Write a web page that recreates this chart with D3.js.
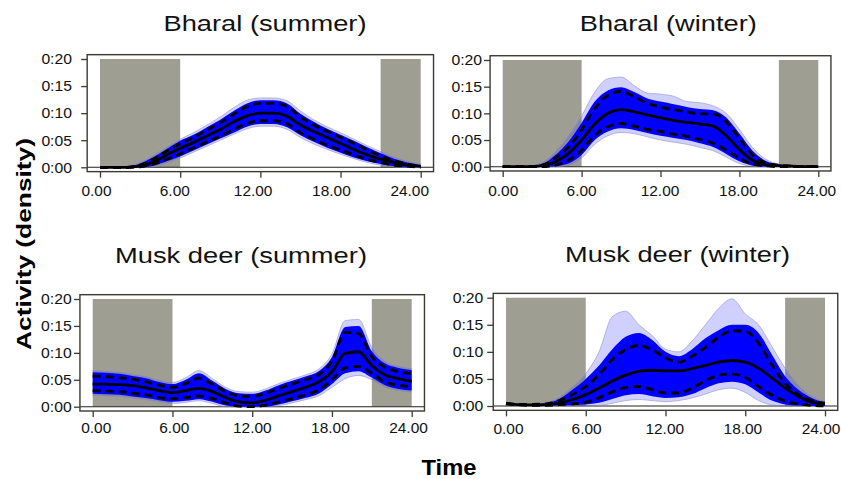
<!DOCTYPE html>
<html><head><meta charset="utf-8">
<script src="https://cdn.jsdelivr.net/npm/d3@7"></script>
<style>body{margin:0;background:#fff} svg{display:block}</style>
</head><body><svg id="c" width="841" height="479"></svg>
<script>
// ---------------- data ----------------
const hours = [0,1,2,3,4,5,6,7,8,9,10,11,12,13,14,15,16,17,18,19,20,21,22,23,24];
const xTickValues = [0, 6, 12, 18, 24];
const xTickLabels = ["0.00", "6.00", "12.00", "18.00", "24.00"];
const yTickValues = [0, 0.05, 0.10, 0.15, 0.20];
const yTickLabels = ["0:00", "0:05", "0:10", "0:15", "0:20"];
const nightStart = [0, 21];
const nightEnd = [6, 24];
const panelTitles = ["Bharal (summer)", "Bharal (winter)", "Musk deer (summer)", "Musk deer (winter)"];

// Bharal (summer)
const bsMean  = [0,0,0,0.002,0.010,0.023,0.035,0.046,0.058,0.070,0.084,0.095,0.100,0.100,0.094,0.078,0.066,0.055,0.044,0.033,0.023,0.015,0.009,0.004,0.002];
const bsUpper = [0,0,0,0.004,0.015,0.030,0.044,0.055,0.069,0.082,0.098,0.112,0.118,0.118,0.112,0.093,0.078,0.066,0.055,0.044,0.032,0.021,0.012,0.006,0.002];
const bsLower = [0,0,0,0.001,0.006,0.015,0.025,0.036,0.047,0.058,0.070,0.081,0.086,0.086,0.080,0.064,0.052,0.041,0.032,0.023,0.015,0.009,0.004,0.002,0];
const bsBandHi = [0,0,0.001,0.007,0.019,0.034,0.049,0.060,0.074,0.088,0.104,0.118,0.124,0.124,0.118,0.099,0.084,0.071,0.060,0.049,0.037,0.026,0.016,0.009,0.004];
const bsBandLo = [0,0,0,0,0.003,0.011,0.020,0.031,0.042,0.053,0.064,0.075,0.080,0.080,0.074,0.059,0.047,0.036,0.027,0.018,0.011,0.006,0.002,0,0];
const bsHaloHi = [0,0,0.002,0.009,0.022,0.037,0.052,0.064,0.078,0.093,0.110,0.124,0.128,0.128,0.123,0.104,0.088,0.075,0.064,0.052,0.040,0.029,0.019,0.011,0.006];
const bsHaloLo = [0,0,0,0,0.001,0.008,0.017,0.028,0.039,0.050,0.061,0.071,0.076,0.076,0.070,0.055,0.043,0.033,0.024,0.016,0.009,0.004,0.001,0,0];

// Bharal (winter)
const bwMean  = [0,0,0,0.002,0.009,0.025,0.050,0.080,0.100,0.107,0.103,0.097,0.092,0.087,0.083,0.080,0.076,0.058,0.032,0.012,0.004,0.002,0.001,0,0];
const bwUpper = [0,0,0,0.003,0.016,0.037,0.069,0.109,0.134,0.141,0.131,0.119,0.112,0.107,0.103,0.099,0.099,0.084,0.053,0.022,0.007,0.003,0.001,0,0];
const bwLower = [0,0,0,0,0.003,0.012,0.031,0.059,0.075,0.081,0.076,0.070,0.066,0.061,0.057,0.051,0.044,0.031,0.016,0.005,0.002,0,0,0,0];
const bwBandHi = [0,0,0.001,0.005,0.022,0.047,0.082,0.122,0.143,0.149,0.140,0.128,0.122,0.117,0.112,0.108,0.106,0.092,0.062,0.030,0.011,0.004,0.001,0,0];
const bwBandLo = [0,0,0,0,0.001,0.006,0.022,0.050,0.066,0.072,0.069,0.063,0.058,0.054,0.050,0.044,0.037,0.024,0.010,0.002,0,0,0,0,0];
const bwHaloHi = [0,0,0.002,0.008,0.028,0.058,0.095,0.140,0.165,0.168,0.152,0.138,0.136,0.132,0.122,0.120,0.114,0.100,0.070,0.036,0.014,0.005,0.002,0,0];
const bwHaloLo = [0,0,0,0,0,0.003,0.016,0.042,0.058,0.064,0.062,0.056,0.050,0.046,0.042,0.036,0.030,0.018,0.006,0.001,0,0,0,0,0];

// Musk deer (summer)
const msMean  = [0.042,0.042,0.041,0.039,0.035,0.030,0.026,0.030,0.034,0.028,0.017,0.009,0.007,0.012,0.020,0.028,0.036,0.046,0.065,0.099,0.102,0.076,0.059,0.052,0.047];
const msUpper = [0.057,0.056,0.054,0.051,0.046,0.040,0.036,0.043,0.053,0.042,0.028,0.020,0.019,0.025,0.034,0.042,0.050,0.059,0.084,0.138,0.136,0.093,0.073,0.065,0.062];
const msLower = [0.030,0.029,0.028,0.025,0.022,0.017,0.015,0.017,0.020,0.015,0.007,0.001,0,0.003,0.009,0.015,0.022,0.031,0.050,0.072,0.075,0.062,0.046,0.040,0.037];
const msBandHi = [0.064,0.063,0.061,0.057,0.053,0.046,0.042,0.050,0.062,0.048,0.033,0.025,0.024,0.030,0.040,0.048,0.056,0.066,0.092,0.148,0.150,0.103,0.080,0.072,0.068];
const msBandLo = [0.024,0.023,0.022,0.019,0.016,0.012,0.009,0.011,0.014,0.009,0.002,0,0,0,0.004,0.010,0.016,0.024,0.042,0.062,0.066,0.054,0.040,0.033,0.030];
const msHaloHi = [0.067,0.066,0.064,0.060,0.056,0.049,0.045,0.054,0.067,0.052,0.036,0.028,0.027,0.033,0.043,0.051,0.059,0.070,0.098,0.160,0.162,0.110,0.084,0.075,0.071];
const msHaloLo = [0.021,0.020,0.019,0.016,0.013,0.009,0.006,0.008,0.011,0.006,0,0,0,0,0.002,0.007,0.013,0.020,0.036,0.052,0.058,0.050,0.036,0.030,0.027];

// Musk deer (winter)
const mwMean  = [0.005,0.0025,0.002,0.0025,0.0055,0.012,0.021,0.033,0.046,0.057,0.064,0.066,0.065,0.065,0.069,0.075,0.081,0.084,0.081,0.070,0.052,0.033,0.018,0.007,0.004];
const mwUpper = [0.005,0.003,0.003,0.004,0.010,0.021,0.036,0.058,0.086,0.104,0.112,0.104,0.089,0.081,0.092,0.108,0.127,0.139,0.138,0.116,0.076,0.042,0.021,0.010,0.0055];
const mwLower = [0.004,0.002,0.001,0.001,0.0025,0.004,0.007,0.015,0.026,0.034,0.036,0.030,0.024,0.024,0.033,0.047,0.057,0.059,0.053,0.036,0.020,0.009,0.004,0.001,0];
const mwBandHi = [0.005,0.003,0.003,0.005,0.013,0.030,0.050,0.075,0.105,0.128,0.135,0.122,0.100,0.092,0.105,0.125,0.140,0.150,0.150,0.135,0.095,0.055,0.030,0.015,0.006];
const mwBandLo = [0.004,0.002,0.001,0.001,0.001,0.002,0.003,0.006,0.013,0.020,0.022,0.018,0.015,0.016,0.022,0.033,0.042,0.045,0.040,0.025,0.010,0.003,0.001,0,0];
const mwHaloHi = [0.006,0.003,0.003,0.006,0.016,0.035,0.060,0.100,0.165,0.175,0.150,0.130,0.105,0.100,0.120,0.150,0.180,0.198,0.170,0.150,0.110,0.070,0.038,0.018,0.008];
const mwHaloLo = [0.003,0.001,0,0,0,0,0,0.001,0.005,0.010,0.012,0.010,0.008,0.010,0.015,0.022,0.030,0.033,0.025,0.010,0.002,0,0,0,0];

const panels = [
  {title: panelTitles[0], mean: bsMean, upper: bsUpper, lower: bsLower, bandHi: bsBandHi, bandLo: bsBandLo, haloHi: bsHaloHi, haloLo: bsHaloLo},
  {title: panelTitles[1], mean: bwMean, upper: bwUpper, lower: bwLower, bandHi: bwBandHi, bandLo: bwBandLo, haloHi: bwHaloHi, haloLo: bwHaloLo},
  {title: panelTitles[2], mean: msMean, upper: msUpper, lower: msLower, bandHi: msBandHi, bandLo: msBandLo, haloHi: msHaloHi, haloLo: msHaloLo},
  {title: panelTitles[3], mean: mwMean, upper: mwUpper, lower: mwLower, bandHi: mwBandHi, bandLo: mwBandLo, haloHi: mwHaloHi, haloLo: mwHaloLo}
];

// ---------------- layout ----------------
// s0 / s24: horizontal nudge of the first / last x tick label relative to its tick
const layout = [
  {x0:100,   x24:420.7, y0:167.3, y20:59,    tx:265,   ty:31,    tw:203,   labR:72,    xlab:196.5, s0:-4,  s24:-11.5},
  {x0:502.7, x24:818.3, y0:166.7, y20:60,    tx:668.3, ty:31,    tw:177,   labR:482,   xlab:196,   s0:0,   s24:-2},
  {x0:92.7,  x24:411.7, y0:406.7, y20:299,   tx:241,   ty:263.3, tw:252,   labR:71.7,  xlab:432.7, s0:3,   s24:-3.7},
  {x0:506,   x24:825,   y0:406,   y20:297.7, tx:677.5, ty:262.3, tw:225,   labR:483.3, xlab:434,   s0:2,   s24:-4.5}
];

const FONT = "'Liberation Sans', Arial, Helvetica, sans-serif";
const boxColor = "#3b3b33";
const greyFill = "#9e9e92";
const svg = d3.select("#c");

panels.forEach((p, i) => {
  const L = layout[i];
  const x = d3.scaleLinear().domain([0, 24]).range([L.x0, L.x24]);
  const y = d3.scaleLinear().domain([0, 0.2]).range([L.y0, L.y20]);
  const bx0 = x(-0.96), bx1 = x(24.96), by0 = y(0.208), by1 = y(-0.008);
  const g = svg.append("g");

  // night rectangles
  nightStart.forEach((s, k) => {
    g.append("rect")
      .attr("x", x(s)).attr("y", y(0.2))
      .attr("width", x(nightEnd[k]) - x(s)).attr("height", y(0) - y(0.2))
      .attr("fill", greyFill);
  });

  // zero line
  g.append("line").attr("x1", bx0).attr("x2", bx1).attr("y1", y(0)).attr("y2", y(0))
    .attr("stroke", "#222").attr("stroke-width", 1.1);

  const curve = d3.curveMonotoneX;
  const area = (hi, lo) => d3.area().x((d, j) => x(hours[j])).y0((d, j) => y(lo[j])).y1(d => y(d)).curve(curve)(hi);
  const line = arr => d3.line().x((d, j) => x(hours[j])).y(d => y(d)).curve(curve)(arr);

  // halo of faint bootstrap curves
  g.append("path").attr("d", area(p.haloHi, p.haloLo)).attr("fill", "#3a3aff").attr("fill-opacity", 0.24);
  g.append("path").attr("d", line(p.haloHi)).attr("fill", "none").attr("stroke", "#8a8ac4").attr("stroke-width", 0.7).attr("stroke-opacity", 0.8);
  g.append("path").attr("d", line(p.haloLo)).attr("fill", "none").attr("stroke", "#8a8ac4").attr("stroke-width", 0.7).attr("stroke-opacity", 0.8);
  // dense band
  g.append("path").attr("d", area(p.bandHi, p.bandLo)).attr("fill", "#0000ff");

  // dashed CI and mean
  [p.upper, p.lower].forEach(arr => {
    g.append("path").attr("d", line(arr)).attr("fill", "none").attr("stroke", "#000")
      .attr("stroke-width", 2.8).attr("stroke-dasharray", "8,5");
  });
  g.append("path").attr("d", line(p.mean)).attr("fill", "none").attr("stroke", "#000").attr("stroke-width", 2.8);

  // box
  g.append("rect").attr("x", bx0).attr("y", by0).attr("width", bx1 - bx0).attr("height", by1 - by0)
    .attr("fill", "none").attr("stroke", boxColor).attr("stroke-width", 1.4);

  // axes
  const sx = 1.05;
  const yAxis = d3.axisLeft(y).tickValues(yTickValues).tickSize(6)
    .tickFormat((d, j) => yTickLabels[j]);
  const ya = g.append("g").attr("transform", `translate(${bx0},0)`).call(yAxis);
  ya.select(".domain").remove();
  ya.selectAll("line").attr("stroke", boxColor).attr("stroke-width", 1.3);
  ya.selectAll("text").attr("font-family", FONT).attr("font-size", 15).attr("fill", "#111")
    .attr("x", -(bx0 - L.labR) / sx).attr("transform", `scale(${sx},1)`);

  const sxx = 1.03;
  const xAxis = d3.axisBottom(x).tickValues(xTickValues).tickSize(6)
    .tickFormat((d, j) => xTickLabels[j]);
  const xa = g.append("g").attr("transform", `translate(0,${by1})`).call(xAxis);
  xa.select(".domain").remove();
  xa.selectAll("line").attr("stroke", boxColor).attr("stroke-width", 1.3);
  xa.selectAll("text").attr("font-family", FONT).attr("font-size", 15).attr("fill", "#111")
    .attr("dy", 0).attr("y", L.xlab - by1)
    .attr("x", d => (L.s0 + (L.s24 - L.s0) * d / 24) / sxx)
    .attr("transform", `scale(${sxx},1)`);

  // title
  svg.append("text").attr("x", L.tx).attr("y", L.ty).attr("text-anchor", "middle")
    .attr("font-family", FONT).attr("font-size", 22.5).attr("fill", "#111")
    .attr("textLength", L.tw).attr("lengthAdjust", "spacingAndGlyphs")
    .text(p.title);
});

// axis titles
svg.append("text").attr("transform", "translate(31,244) rotate(-90)").attr("text-anchor", "middle")
  .attr("font-family", FONT).attr("font-size", 21).attr("font-weight", "bold").attr("fill", "#000")
  .attr("textLength", 212).attr("lengthAdjust", "spacingAndGlyphs")
  .text("Activity (density)");
svg.append("text").attr("x", 449).attr("y", 475).attr("text-anchor", "middle")
  .attr("font-family", FONT).attr("font-size", 22).attr("font-weight", "bold").attr("fill", "#000")
  .attr("textLength", 55).attr("lengthAdjust", "spacingAndGlyphs")
  .text("Time");
</script></body></html>
